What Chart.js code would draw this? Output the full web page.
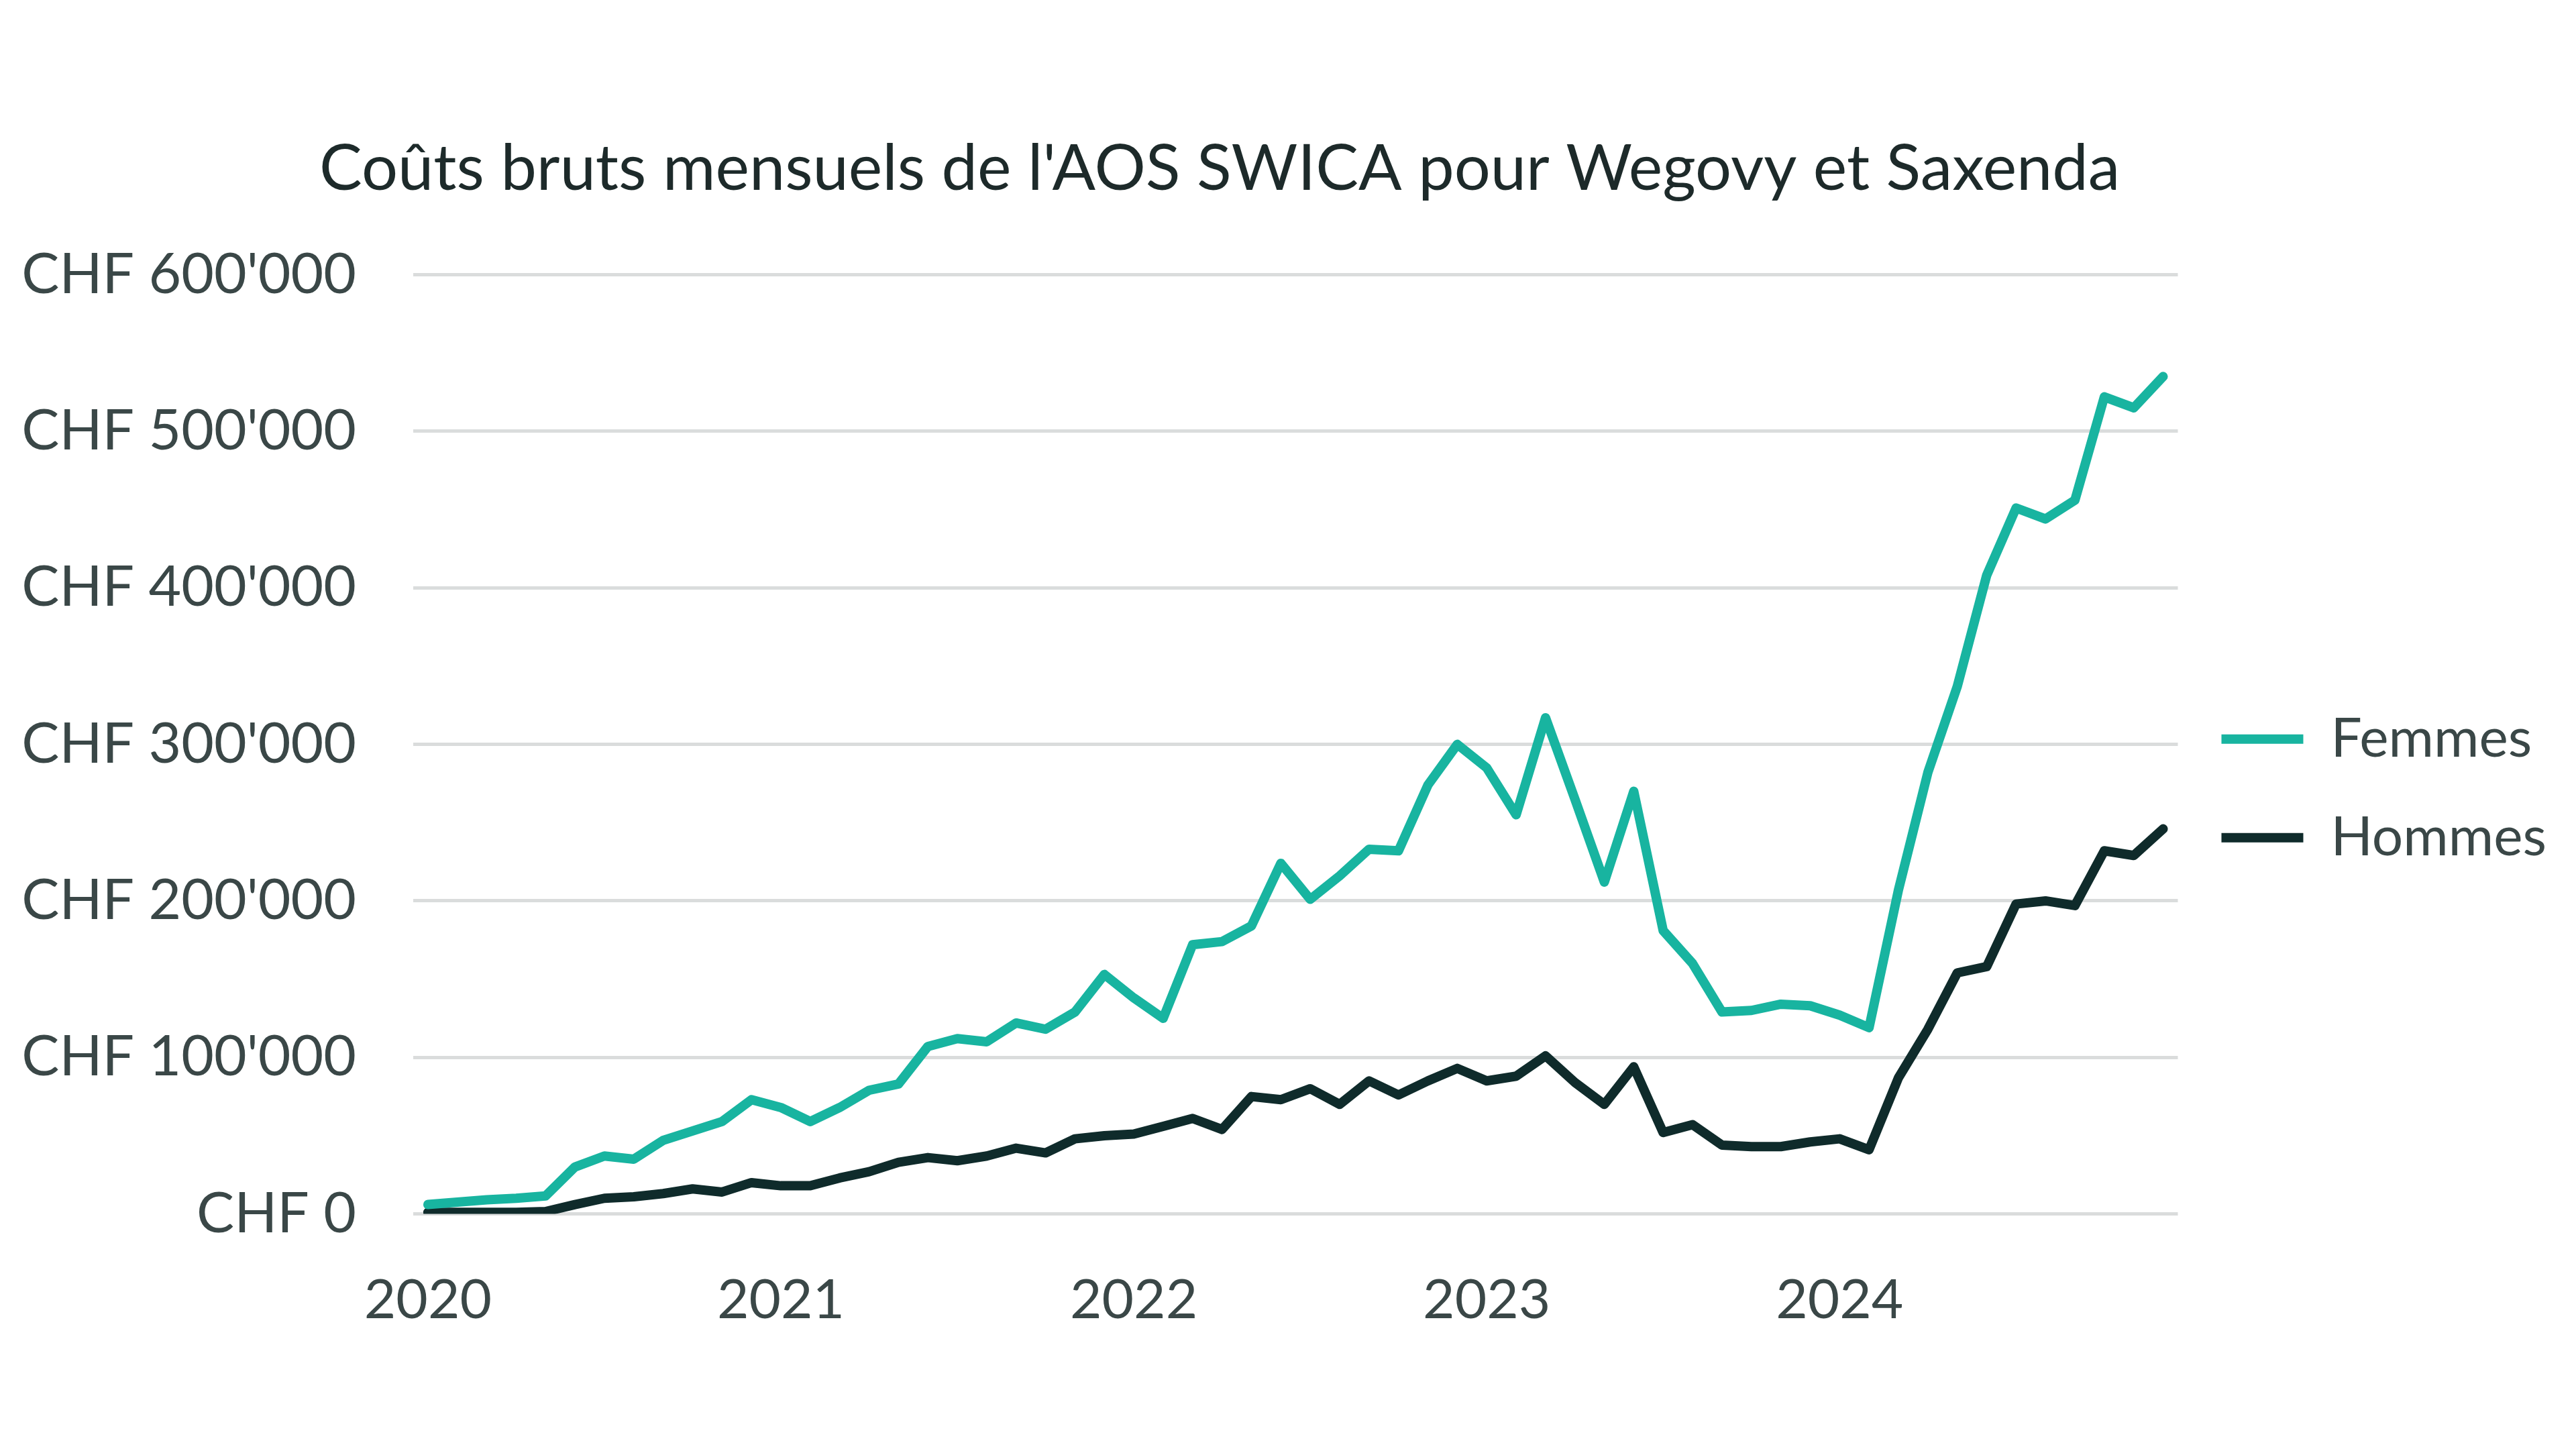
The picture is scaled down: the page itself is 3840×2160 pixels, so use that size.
<!DOCTYPE html>
<html>
<head>
<meta charset="utf-8">
<script src="https://cdn.jsdelivr.net/npm/chart.js@4.4.1/dist/chart.umd.min.js"></script>
<style>
  html, body { margin: 0; padding: 0; background: #ffffff; }
  #wrap { width: 3840px; height: 2160px; }
</style>
</head>
<body>
<div id="wrap"><canvas id="c" width="3840" height="2160"></canvas></div>
<script>
// ---- Data ----
const years = ['2020', '2021', '2022', '2023', '2024'];
const monthsPerYear = ['01','02','03','04','05','06','07','08','09','10','11','12'];
const seriesNames = ['Femmes', 'Hommes'];

const femmes = [
  6000, 7500, 9000, 10000, 11500, 30000, 37000, 35000, 47000, 53000, 59000, 73000,
  68000, 59000, 68000, 79000, 83000, 107000, 112000, 110000, 122000, 118000, 129000, 153000,
  138000, 125000, 172000, 174000, 184000, 224000, 201000, 216000, 233000, 232000, 274000, 300000,
  285000, 255000, 317000, 265000, 212000, 270000, 181000, 160000, 129000, 130000, 134000, 133000,
  127000, 119000, 207000, 282000, 337000, 408000, 451000, 444000, 456000, 522000, 515000, 535000
];
const hommes = [
  1000, 1000, 1000, 1000, 1500, 6000, 10000, 11000, 13000, 16000, 14000, 20000,
  18000, 18000, 23000, 27000, 33000, 36000, 34000, 37000, 42000, 39000, 48000, 50000,
  51000, 56000, 61000, 54000, 75000, 73000, 80000, 70000, 85000, 76000, 85000, 93000,
  85000, 88000, 101000, 84000, 70000, 94000, 52000, 57000, 44000, 43000, 43000, 46000,
  48000, 41000, 87000, 118000, 154000, 158000, 198000, 200000, 197000, 232000, 229000, 246000
];
const yMin = 0;
const yMax = 600000;
const yStep = 100000;
const titleText = "Coûts bruts mensuels de l'AOS SWICA pour Wegovy et Saxenda";

// ---- Build category labels ----
const categories = [];
years.forEach(y => monthsPerYear.forEach(m => categories.push(y + '-' + m)));

function chf(v) {
  const s = Math.round(v).toString().replace(/\B(?=(\d{3})+(?!\d))/g, "'");
  return 'CHF ' + s;
}

const FONT = 'Lato, "Open Sans", sans-serif';
const TEXT = '#3a4747';

new Chart(document.getElementById('c'), {
  type: 'line',
  data: {
    labels: categories,
    datasets: [
      {
        label: seriesNames[0],
        data: femmes,
        borderColor: '#18b4a0',
        backgroundColor: '#18b4a0',
        borderWidth: 14,
        pointRadius: 0,
        tension: 0,
        borderJoinStyle: 'round',
        borderCapStyle: 'round'
      },
      {
        label: seriesNames[1],
        data: hommes,
        borderColor: '#0f2b2b',
        backgroundColor: '#0f2b2b',
        borderWidth: 14,
        pointRadius: 0,
        tension: 0,
        borderJoinStyle: 'round',
        borderCapStyle: 'round'
      }
    ]
  },
  options: {
    responsive: false,
    animation: false,
    devicePixelRatio: 1,
    layout: { padding: { left: 26, right: 34, top: 0, bottom: 92 } },
    plugins: {
      title: {
        display: true,
        // trailing no-break spaces shift the centred title slightly left, as in the reference
        text: titleText + '\u00A0'.repeat(8),
        color: '#1d2a2a',
        font: { family: FONT, size: 95.5, weight: 'normal' },
        padding: { top: 195, bottom: 100 }
      },
      legend: {
        display: true,
        position: 'right',
        fullSize: false,
        align: 'center',
        title: { display: true, text: ' ', font: { size: 1 }, padding: { top: 130, bottom: 0 } },
        labels: {
          usePointStyle: true,
          pointStyle: 'line',
          pointStyleWidth: 122,
          boxHeight: 14,
          padding: 65,
          color: TEXT,
          font: { family: FONT, size: 82, weight: 'normal' }
        }
      },
      tooltip: { enabled: false }
    },
    scales: {
      x: {
        type: 'category',
        offset: true,
        grid: { display: false, drawTicks: false },
        border: { display: false },
        ticks: {
          autoSkip: false,
          maxRotation: 0,
          minRotation: 0,
          padding: 80,
          color: TEXT,
          font: { family: FONT, size: 82, weight: 'normal' },
          callback: (v, i) => (i % 12 === 0 ? years[i / 12] : '')
        }
      },
      y: {
        min: yMin,
        max: yMax,
        afterFit: (scale) => { scale.width = 590; },
        grid: { color: '#dadcdc', lineWidth: 5, drawTicks: false },
        border: { display: false },
        ticks: {
          stepSize: yStep,
          padding: 85,
          color: TEXT,
          font: { family: FONT, size: 84, weight: 'normal' },
          callback: v => chf(v)
        }
      }
    }
  }
});
</script>
</body>
</html>
